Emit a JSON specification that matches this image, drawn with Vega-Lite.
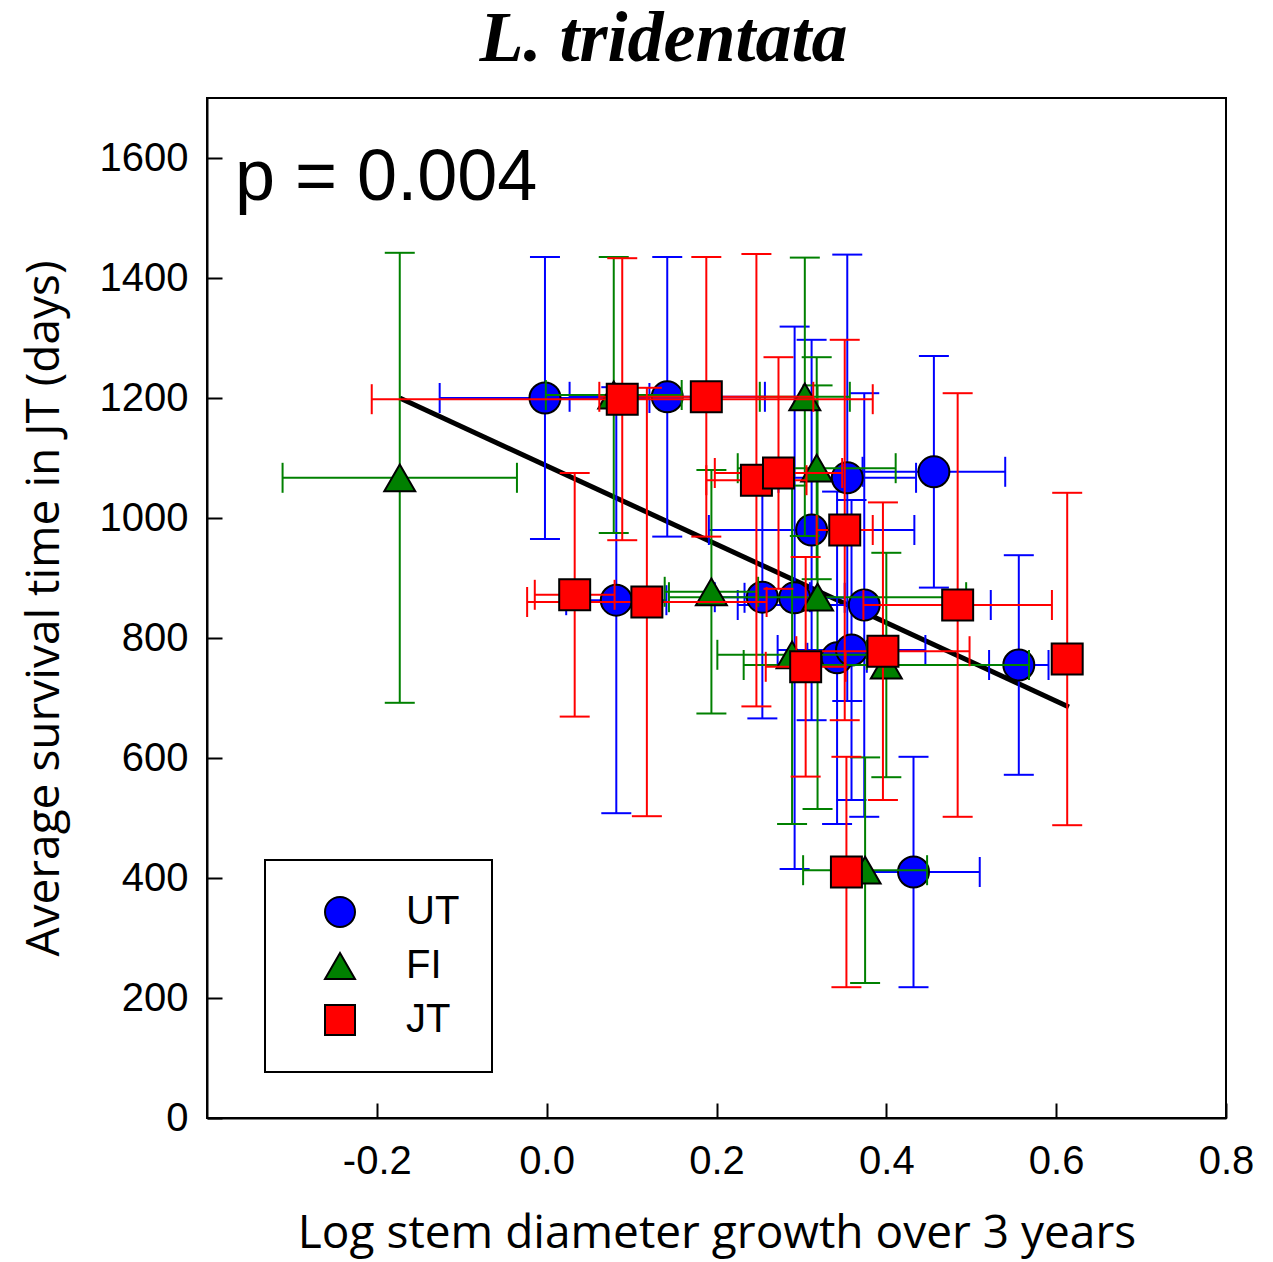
{
  "$schema": "https://vega.github.io/schema/vega-lite/v6.json",
  "width": 1019,
  "height": 1020,
  "autosize": {"type": "none"},
  "padding": {"left": 207, "top": 98, "right": 47, "bottom": 144},
  "background": "white",
  "title": {"text": "L. tridentata", "font": "Liberation Serif", "fontSize": 72, "fontStyle": "italic", "fontWeight": "bold", "color": "black", "anchor": "middle", "frame": "group", "dx": -53, "offset": 22},
  "config": {
    "view": {"stroke": "black", "strokeWidth": 2},
    "axis": {"domainColor": "black", "domainWidth": 2, "tickColor": "black", "tickWidth": 2, "tickSize": -15, "labelFont": "Liberation Sans", "labelFontSize": 40, "labelColor": "black", "titleFont": "Open Sans", "titleFontSize": 46, "titleFontWeight": "normal", "titleColor": "black", "grid": false},
    "axisX": {"labelPadding": 38, "titlePadding": 30, "labelFlush": false},
    "axisY": {"labelPadding": 34, "titlePadding": 31},
    "legend": {"strokeWidth": 2}
  },
  "datasets": {
    "pts": [
      {"site": "UT", "x": -0.002, "y": 1200, "xlo": -0.126, "xhi": 0.121, "ylo": 965, "yhi": 1435},
      {"site": "UT", "x": 0.142, "y": 1202, "xlo": 0.027, "xhi": 0.257, "ylo": 969, "yhi": 1435},
      {"site": "UT", "x": 0.354, "y": 1067, "xlo": 0.273, "xhi": 0.435, "ylo": 695, "yhi": 1439},
      {"site": "UT", "x": 0.456, "y": 1077, "xlo": 0.372, "xhi": 0.540, "ylo": 884, "yhi": 1270},
      {"site": "UT", "x": 0.312, "y": 980, "xlo": 0.191, "xhi": 0.433, "ylo": 663, "yhi": 1297},
      {"site": "UT", "x": 0.082, "y": 863, "xlo": 0.023, "xhi": 0.141, "ylo": 508, "yhi": 1218},
      {"site": "UT", "x": 0.254, "y": 868, "xlo": 0.198, "xhi": 0.310, "ylo": 666, "yhi": 1070},
      {"site": "UT", "x": 0.292, "y": 867, "xlo": 0.233, "xhi": 0.351, "ylo": 415, "yhi": 1319},
      {"site": "UT", "x": 0.374, "y": 855, "xlo": 0.225, "xhi": 0.523, "ylo": 502, "yhi": 1208},
      {"site": "UT", "x": 0.342, "y": 767, "xlo": 0.307, "xhi": 0.377, "ylo": 490, "yhi": 1044},
      {"site": "UT", "x": 0.359, "y": 780, "xlo": 0.272, "xhi": 0.446, "ylo": 530, "yhi": 1030},
      {"site": "UT", "x": 0.556, "y": 755, "xlo": 0.521, "xhi": 0.591, "ylo": 572, "yhi": 938},
      {"site": "UT", "x": 0.432, "y": 410, "xlo": 0.354, "xhi": 0.510, "ylo": 218, "yhi": 602},
      {"site": "FI", "x": -0.173, "y": 1067, "xlo": -0.311, "xhi": -0.035, "ylo": 692, "yhi": 1442},
      {"site": "FI", "x": 0.079, "y": 1205, "xlo": -0.001, "xhi": 0.159, "ylo": 975, "yhi": 1435},
      {"site": "FI", "x": 0.304, "y": 1202, "xlo": 0.251, "xhi": 0.357, "ylo": 970, "yhi": 1434},
      {"site": "FI", "x": 0.318, "y": 1083, "xlo": 0.225, "xhi": 0.411, "ylo": 898, "yhi": 1268},
      {"site": "FI", "x": 0.194, "y": 877, "xlo": 0.139, "xhi": 0.249, "ylo": 674, "yhi": 1080},
      {"site": "FI", "x": 0.319, "y": 868, "xlo": 0.144, "xhi": 0.494, "ylo": 515, "yhi": 1221},
      {"site": "FI", "x": 0.289, "y": 772, "xlo": 0.201, "xhi": 0.377, "ylo": 490, "yhi": 1054},
      {"site": "FI", "x": 0.400, "y": 755, "xlo": 0.232, "xhi": 0.568, "ylo": 568, "yhi": 942},
      {"site": "FI", "x": 0.375, "y": 413, "xlo": 0.302, "xhi": 0.448, "ylo": 225, "yhi": 601},
      {"site": "JT", "x": 0.089, "y": 1198, "xlo": -0.206, "xhi": 0.384, "ylo": 963, "yhi": 1433},
      {"site": "JT", "x": 0.188, "y": 1202, "xlo": 0.062, "xhi": 0.314, "ylo": 969, "yhi": 1435},
      {"site": "JT", "x": 0.247, "y": 1063, "xlo": 0.188, "xhi": 0.306, "ylo": 686, "yhi": 1440},
      {"site": "JT", "x": 0.273, "y": 1075, "xlo": 0.198, "xhi": 0.348, "ylo": 882, "yhi": 1268},
      {"site": "JT", "x": 0.351, "y": 980, "xlo": 0.318, "xhi": 0.384, "ylo": 663, "yhi": 1297},
      {"site": "JT", "x": 0.033, "y": 872, "xlo": -0.014, "xhi": 0.080, "ylo": 669, "yhi": 1075},
      {"site": "JT", "x": 0.118, "y": 860, "xlo": -0.023, "xhi": 0.259, "ylo": 503, "yhi": 1217},
      {"site": "JT", "x": 0.305, "y": 752, "xlo": 0.258, "xhi": 0.352, "ylo": 569, "yhi": 935},
      {"site": "JT", "x": 0.396, "y": 778, "xlo": 0.294, "xhi": 0.498, "ylo": 530, "yhi": 1026},
      {"site": "JT", "x": 0.484, "y": 855, "xlo": 0.373, "xhi": 0.595, "ylo": 502, "yhi": 1208},
      {"site": "JT", "x": 0.613, "y": 765, "xlo": 0.607, "xhi": 0.619, "ylo": 488, "yhi": 1042},
      {"site": "JT", "x": 0.353, "y": 410, "xlo": 0.343, "xhi": 0.363, "ylo": 218, "yhi": 602}
    ],
    "fit": [{"x": -0.173, "y": 1200}, {"x": 0.615, "y": 685}],
    "ann": [{"x": -0.367, "y": 1530, "label": "p = 0.004"}]
  },
  "layer": [
    {
      "data": {"name": "fit"},
      "mark": {"type": "line", "color": "black", "strokeWidth": 5},
      "encoding": {
        "x": {"field": "x", "type": "quantitative", "scale": {"domain": [-0.4, 0.8], "nice": false, "zero": false}, "title": "Log stem diameter growth over 3 years", "axis": {"values": [-0.2, 0, 0.2, 0.4, 0.6, 0.8], "labelExpr": "replace(format(datum.value, '.1f'), '\u2212', '-')"}},
        "y": {"field": "y", "type": "quantitative", "scale": {"domain": [0, 1700], "nice": false, "zero": false}, "title": "Average survival time in JT (days)", "axis": {"values": [0, 200, 400, 600, 800, 1000, 1200, 1400, 1600], "format": "d"}}
      }
    },
    {
      "data": {"name": "pts"},
      "transform": [{"filter": "datum.site === 'UT'"}],
      "layer": [
        {"mark": {"type": "rule", "color": "#0000ff", "strokeWidth": 2}, "encoding": {"x": {"field": "x", "type": "quantitative", "title": "Log stem diameter growth over 3 years"}, "y": {"field": "ylo", "type": "quantitative", "title": "Average survival time in JT (days)"}, "y2": {"field": "yhi"}}},
        {"mark": {"type": "rule", "color": "#0000ff", "strokeWidth": 2}, "encoding": {"x": {"field": "xlo", "type": "quantitative", "title": "Log stem diameter growth over 3 years"}, "x2": {"field": "xhi"}, "y": {"field": "y", "type": "quantitative", "title": "Average survival time in JT (days)"}}},
        {"mark": {"type": "tick", "orient": "horizontal", "color": "#0000ff", "size": 30, "thickness": 2, "opacity": 1}, "encoding": {"x": {"field": "x", "type": "quantitative", "title": "Log stem diameter growth over 3 years"}, "y": {"field": "ylo", "type": "quantitative", "title": "Average survival time in JT (days)"}}},
        {"mark": {"type": "tick", "orient": "horizontal", "color": "#0000ff", "size": 30, "thickness": 2, "opacity": 1}, "encoding": {"x": {"field": "x", "type": "quantitative", "title": "Log stem diameter growth over 3 years"}, "y": {"field": "yhi", "type": "quantitative", "title": "Average survival time in JT (days)"}}},
        {"mark": {"type": "tick", "orient": "vertical", "color": "#0000ff", "size": 30, "thickness": 2, "opacity": 1}, "encoding": {"x": {"field": "xlo", "type": "quantitative", "title": "Log stem diameter growth over 3 years"}, "y": {"field": "y", "type": "quantitative", "title": "Average survival time in JT (days)"}}},
        {"mark": {"type": "tick", "orient": "vertical", "color": "#0000ff", "size": 30, "thickness": 2, "opacity": 1}, "encoding": {"x": {"field": "xhi", "type": "quantitative", "title": "Log stem diameter growth over 3 years"}, "y": {"field": "y", "type": "quantitative", "title": "Average survival time in JT (days)"}}},
        {"mark": {"type": "point", "filled": true, "size": 960, "stroke": "black", "strokeWidth": 2, "opacity": 1}, "encoding": {
          "x": {"field": "x", "type": "quantitative", "title": "Log stem diameter growth over 3 years"},
          "y": {"field": "y", "type": "quantitative", "title": "Average survival time in JT (days)"},
          "color": {"field": "site", "type": "nominal", "scale": {"domain": ["UT", "FI", "JT"], "range": ["#0000ff", "#008000", "#ff0000"]}, "legend": {"orient": "none", "legendX": 58, "legendY": 762, "title": null, "strokeColor": "black", "fillColor": "white", "padding": 32, "symbolOffset": 23, "labelOffset": 46, "rowPadding": 14, "symbolSize": 900, "symbolStrokeColor": "black", "symbolStrokeWidth": 2, "labelFont": "Liberation Sans", "labelFontSize": 40, "labelColor": "black"}},
          "shape": {"field": "site", "type": "nominal", "scale": {"domain": ["UT", "FI", "JT"], "range": ["circle", "triangle-up", "square"]}, "legend": {"orient": "none", "legendX": 58, "legendY": 762, "title": null, "strokeColor": "black", "fillColor": "white", "padding": 32, "symbolOffset": 23, "labelOffset": 46, "rowPadding": 14, "symbolSize": 900, "symbolStrokeColor": "black", "symbolStrokeWidth": 2, "labelFont": "Liberation Sans", "labelFontSize": 40, "labelColor": "black"}}
        }}
      ]
    },
    {
      "data": {"name": "pts"},
      "transform": [{"filter": "datum.site === 'FI'"}],
      "layer": [
        {"mark": {"type": "rule", "color": "#008000", "strokeWidth": 2}, "encoding": {"x": {"field": "x", "type": "quantitative", "title": "Log stem diameter growth over 3 years"}, "y": {"field": "ylo", "type": "quantitative", "title": "Average survival time in JT (days)"}, "y2": {"field": "yhi"}}},
        {"mark": {"type": "rule", "color": "#008000", "strokeWidth": 2}, "encoding": {"x": {"field": "xlo", "type": "quantitative", "title": "Log stem diameter growth over 3 years"}, "x2": {"field": "xhi"}, "y": {"field": "y", "type": "quantitative", "title": "Average survival time in JT (days)"}}},
        {"mark": {"type": "tick", "orient": "horizontal", "color": "#008000", "size": 30, "thickness": 2, "opacity": 1}, "encoding": {"x": {"field": "x", "type": "quantitative", "title": "Log stem diameter growth over 3 years"}, "y": {"field": "ylo", "type": "quantitative", "title": "Average survival time in JT (days)"}}},
        {"mark": {"type": "tick", "orient": "horizontal", "color": "#008000", "size": 30, "thickness": 2, "opacity": 1}, "encoding": {"x": {"field": "x", "type": "quantitative", "title": "Log stem diameter growth over 3 years"}, "y": {"field": "yhi", "type": "quantitative", "title": "Average survival time in JT (days)"}}},
        {"mark": {"type": "tick", "orient": "vertical", "color": "#008000", "size": 30, "thickness": 2, "opacity": 1}, "encoding": {"x": {"field": "xlo", "type": "quantitative", "title": "Log stem diameter growth over 3 years"}, "y": {"field": "y", "type": "quantitative", "title": "Average survival time in JT (days)"}}},
        {"mark": {"type": "tick", "orient": "vertical", "color": "#008000", "size": 30, "thickness": 2, "opacity": 1}, "encoding": {"x": {"field": "xhi", "type": "quantitative", "title": "Log stem diameter growth over 3 years"}, "y": {"field": "y", "type": "quantitative", "title": "Average survival time in JT (days)"}}},
        {"mark": {"type": "point", "filled": true, "size": 960, "stroke": "black", "strokeWidth": 2, "opacity": 1}, "encoding": {
          "x": {"field": "x", "type": "quantitative", "title": "Log stem diameter growth over 3 years"},
          "y": {"field": "y", "type": "quantitative", "title": "Average survival time in JT (days)"},
          "color": {"field": "site", "type": "nominal"},
          "shape": {"field": "site", "type": "nominal"}
        }}
      ]
    },
    {
      "data": {"name": "pts"},
      "transform": [{"filter": "datum.site === 'JT'"}],
      "layer": [
        {"mark": {"type": "rule", "color": "#ff0000", "strokeWidth": 2}, "encoding": {"x": {"field": "x", "type": "quantitative", "title": "Log stem diameter growth over 3 years"}, "y": {"field": "ylo", "type": "quantitative", "title": "Average survival time in JT (days)"}, "y2": {"field": "yhi"}}},
        {"mark": {"type": "rule", "color": "#ff0000", "strokeWidth": 2}, "encoding": {"x": {"field": "xlo", "type": "quantitative", "title": "Log stem diameter growth over 3 years"}, "x2": {"field": "xhi"}, "y": {"field": "y", "type": "quantitative", "title": "Average survival time in JT (days)"}}},
        {"mark": {"type": "tick", "orient": "horizontal", "color": "#ff0000", "size": 30, "thickness": 2, "opacity": 1}, "encoding": {"x": {"field": "x", "type": "quantitative", "title": "Log stem diameter growth over 3 years"}, "y": {"field": "ylo", "type": "quantitative", "title": "Average survival time in JT (days)"}}},
        {"mark": {"type": "tick", "orient": "horizontal", "color": "#ff0000", "size": 30, "thickness": 2, "opacity": 1}, "encoding": {"x": {"field": "x", "type": "quantitative", "title": "Log stem diameter growth over 3 years"}, "y": {"field": "yhi", "type": "quantitative", "title": "Average survival time in JT (days)"}}},
        {"mark": {"type": "tick", "orient": "vertical", "color": "#ff0000", "size": 30, "thickness": 2, "opacity": 1}, "encoding": {"x": {"field": "xlo", "type": "quantitative", "title": "Log stem diameter growth over 3 years"}, "y": {"field": "y", "type": "quantitative", "title": "Average survival time in JT (days)"}}},
        {"mark": {"type": "tick", "orient": "vertical", "color": "#ff0000", "size": 30, "thickness": 2, "opacity": 1}, "encoding": {"x": {"field": "xhi", "type": "quantitative", "title": "Log stem diameter growth over 3 years"}, "y": {"field": "y", "type": "quantitative", "title": "Average survival time in JT (days)"}}},
        {"mark": {"type": "point", "filled": true, "size": 960, "stroke": "black", "strokeWidth": 2, "opacity": 1}, "encoding": {
          "x": {"field": "x", "type": "quantitative", "title": "Log stem diameter growth over 3 years"},
          "y": {"field": "y", "type": "quantitative", "title": "Average survival time in JT (days)"},
          "color": {"field": "site", "type": "nominal"},
          "shape": {"field": "site", "type": "nominal"}
        }}
      ]
    },
    {
      "data": {"name": "ann"},
      "mark": {"type": "text", "align": "left", "baseline": "alphabetic", "fontSize": 72, "font": "Liberation Sans", "color": "black"},
      "encoding": {
        "x": {"field": "x", "type": "quantitative", "title": "Log stem diameter growth over 3 years"},
        "y": {"field": "y", "type": "quantitative", "title": "Average survival time in JT (days)"},
        "text": {"field": "label", "type": "nominal"}
      }
    }
  ]
}
